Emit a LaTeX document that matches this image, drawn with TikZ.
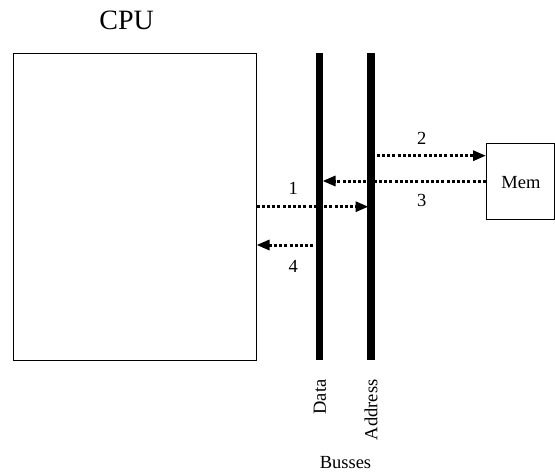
\documentclass[tikz,border=0pt]{standalone}
\usepackage{fontspec}
\setmainfont{Liberation Serif}
\usetikzlibrary{arrows.meta}
\begin{document}
\begin{tikzpicture}[x=1pt,y=-1pt,
  box/.style={draw,line width=1pt,inner sep=0pt},
  bus/.style={line width=7.3pt},
  dotarrow/.style={line width=3pt,dash pattern=on 3pt off 2.2pt,-{Triangle[length=13pt,width=10pt]}},
  lbl/.style={font=\fontsize{18.5}{20}\selectfont,inner sep=0pt}]
\useasboundingbox (0,0) rectangle (555,474);
\node[box,minimum width=243pt,minimum height=307pt] (cpu) at (134.5,206.5) {};
\node[font=\fontsize{28}{30}\selectfont,inner sep=0pt] (cpulbl) at (126.7,20) {CPU};
\node[box,minimum width=68pt,minimum height=76pt,anchor=north west] (mem) at (486,143.3) {};
\node[lbl] (memlbl) at (521,183) {Mem};
\coordinate (dtop) at (319.7,53.3);
\coordinate (dbot) at (319.7,360);
\coordinate (atop) at (371,53.3);
\coordinate (abot) at (371,360);
\draw[bus] (dtop) -- (dbot);
\draw[bus] (atop) -- (abot);
% arrows
\coordinate (a2s) at (376.7,155.7);
\coordinate (a2e) at (486,155.7);
\coordinate (a3s) at (486,181);
\coordinate (a3e) at (322.5,181);
\coordinate (a1s) at (256.5,206.7);
\coordinate (a1e) at (368.5,206.7);
\coordinate (a4s) at (313.3,245);
\coordinate (a4e) at (256.5,245);
\draw[dotarrow] (a2s) -- (a2e);
\draw[dotarrow] (a3s) -- (a3e);
\draw[dotarrow] (a1s) -- (a1e);
\draw[dotarrow] (a4s) -- (a4e);
\node[lbl] (l2) at (421.7,138.3) {2};
\node[lbl] (l3) at (421.7,200) {3};
\node[lbl] (l1) at (293.3,188.3) {1};
\node[lbl] (l4) at (293.3,266) {4};
\node[lbl,rotate=90,anchor=east] (datalbl) at (320,379.3) {Data};
\node[lbl,rotate=90,anchor=east] (addrlbl) at (371,379.3) {Address};
\node[lbl] (busses) at (345.5,462.5) {Busses};
\end{tikzpicture}
\end{document}
